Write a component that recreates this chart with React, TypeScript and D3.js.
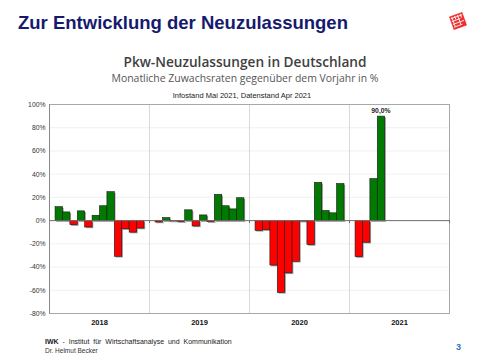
import { useEffect, useRef } from 'react';
import * as d3 from 'd3';

const years = ['2018', '2019', '2020', '2021'];
const months = ['Jan', 'Feb', 'Mär', 'Apr', 'Mai', 'Jun', 'Jul', 'Aug', 'Sep', 'Okt', 'Nov', 'Dez'];
const values2018 = [12, 7.5, -3.5, 8.4, -5.5, 4.6, 12.8, 24.9, -30.7, -7, -9.9, -6.4];
const values2019 = [-1.2, 2.6, -0.4, -0.9, 9.3, -4.6, 4.9, -0.9, 22.6, 12.8, 10.1, 19.7];
const values2020 = [-8.4, -7.8, -38.3, -61.8, -45, -35, -0.5, -20.6, 33, 8.7, 6.7, 31.9];
const values2021 = [-31, -18.6, 36.2, 90.0];
const yTicks = [-80, -60, -40, -20, 0, 20, 40, 60, 80, 100];

const allValues = [values2018, values2019, values2020, values2021];

export default function App() {
  const svgRef = useRef<SVGSVGElement>(null);

  useEffect(() => {
    if (!svgRef.current) return;
    const svg = d3.select(svgRef.current);
    svg.selectAll('*').remove();

    const left = 49.5, right = 449.5, top = 104.5, bottom = 313.5;
    const font = 'Liberation Sans, Arial, sans-serif';

    const x = d3.scaleBand().domain(years).range([left, right]);
    const xm = d3.scaleBand().domain(months).range([0, x.bandwidth()]).paddingOuter(0.75);
    const y = d3.scaleLinear().domain([-80, 100]).range([bottom, top]);

    // titles
    svg.append('text').attr('x', 18).attr('y', 29).text('Zur Entwicklung der Neuzulassungen')
      .attr('font-family', font).attr('font-weight', 'bold')
      .attr('font-size', 18.5).attr('fill', '#161a6e');

    // logo
    const logo = svg.append('g').attr('transform', 'translate(458,21) rotate(-20)');
    logo.append('rect').attr('x', -7).attr('y', -7).attr('width', 14).attr('height', 14).attr('fill', '#f03030');
    [-4.5, -1.5, 1.5, 4.5].forEach((d, i) => {
      logo.append('path')
        .attr('d', `M${-6},${d} H${i % 2 ? 3 : 6} M${d},-6 V${i % 2 ? -2 : 4}`)
        .attr('stroke', '#fff').attr('stroke-width', 0.8);
    });

    svg.append('text').attr('x', 245).attr('y', 67).attr('text-anchor', 'middle')
      .text('Pkw-Neuzulassungen in Deutschland')
      .attr('font-family', 'Open Sans, sans-serif').attr('font-weight', 600).attr('font-size', 14)
      .attr('fill', '#404040').attr('textLength', 243).attr('lengthAdjust', 'spacingAndGlyphs');
    svg.append('text').attr('x', 245).attr('y', 82).attr('text-anchor', 'middle')
      .text('Monatliche Zuwachsraten gegenüber dem Vorjahr in %')
      .attr('font-family', 'Open Sans, sans-serif').attr('font-size', 10.5)
      .attr('fill', '#555').attr('textLength', 267).attr('lengthAdjust', 'spacingAndGlyphs');
    svg.append('text').attr('x', 242).attr('y', 97.5).attr('text-anchor', 'middle')
      .text('Infostand Mai 2021, Datenstand Apr 2021')
      .attr('font-family', font).attr('font-size', 7.5).attr('fill', '#222');

    // grid
    svg.append('g').selectAll('line').data(yTicks).join('line')
      .attr('x1', left).attr('x2', right).attr('y1', (d) => y(d)).attr('y2', (d) => y(d))
      .attr('stroke', '#ececec').attr('stroke-width', 0.8);
    svg.append('g').selectAll('line').data(years.slice(1)).join('line')
      .attr('x1', (d) => x(d)!).attr('x2', (d) => x(d)!).attr('y1', top).attr('y2', bottom)
      .attr('stroke', '#cfcfcf').attr('stroke-width', 0.8);

    svg.append('rect').attr('x', left).attr('y', top).attr('width', right - left).attr('height', bottom - top)
      .attr('fill', 'none').attr('stroke', '#a8a8a8').attr('stroke-width', 1);

    // bars
    const bars = allValues.flatMap((vals, yi) => vals.map((v, mi) => ({ year: years[yi], month: months[mi], v })));
    const bx = (d: { year: string; month: string }) => x(d.year)! + xm(d.month)!;
    const g = svg.append('g');
    g.selectAll('.shadow').data(bars).join('rect')
      .attr('x', (d) => bx(d) + 1.2)
      .attr('y', (d) => Math.min(y(d.v), y(0)) + 1.2)
      .attr('width', xm.bandwidth())
      .attr('height', (d) => Math.abs(y(d.v) - y(0)))
      .attr('fill', '#9a9a9a');
    g.selectAll('.bar').data(bars).join('rect')
      .attr('x', (d) => bx(d))
      .attr('y', (d) => Math.min(y(d.v), y(0)))
      .attr('width', xm.bandwidth())
      .attr('height', (d) => Math.abs(y(d.v) - y(0)))
      .attr('fill', (d) => (d.v >= 0 ? '#007a00' : '#ff0000'))
      .attr('stroke', '#1a1a1a').attr('stroke-width', 0.6);

    // zero line
    svg.append('line').attr('x1', left).attr('x2', right).attr('y1', y(0)).attr('y2', y(0))
      .attr('stroke', '#6e6e6e').attr('stroke-width', 1);
    svg.append('g').selectAll('line').data([...years.slice(1), 'end']).join('line')
      .attr('x1', (d) => (d === 'end' ? right : x(d)!)).attr('x2', (d) => (d === 'end' ? right : x(d)!))
      .attr('y1', y(0)).attr('y2', y(0) + 2.5).attr('stroke', '#6e6e6e');

    svg.append('line').attr('x1', left).attr('x2', left).attr('y1', top).attr('y2', bottom)
      .attr('stroke', '#888').attr('stroke-width', 1);

    // y axis labels
    svg.append('g').selectAll('text').data(yTicks).join('text')
      .attr('x', left - 4).attr('y', (d) => y(d) + 2.4).attr('text-anchor', 'end')
      .text((d) => `${d}%`)
      .attr('font-family', font).attr('font-size', 6.8).attr('fill', '#333');

    // year labels
    svg.append('g').selectAll('text').data(years).join('text')
      .attr('x', (d) => x(d)! + x.bandwidth() / 2).attr('y', 325).attr('text-anchor', 'middle')
      .text((d) => d)
      .attr('font-family', font).attr('font-weight', 'bold')
      .attr('font-size', 7.5).attr('fill', '#111');

    // value label
    const last = bars[bars.length - 1];
    svg.append('text').attr('x', bx(last) + xm.bandwidth() / 2).attr('y', y(last.v) - 3)
      .attr('text-anchor', 'middle').text('90,0%')
      .attr('font-family', font).attr('font-weight', 'bold')
      .attr('font-size', 6.8).attr('fill', '#222');

    // footer
    const f1 = svg.append('text').attr('x', 45).attr('y', 344)
      .attr('font-family', font).attr('font-size', 7).attr('fill', '#222');
    f1.append('tspan').attr('font-weight', 'bold').text('IWK');
    f1.append('tspan').text('  -  Institut  für  Wirtschaftsanalyse  und  Kommunikation').attr('xml:space', 'preserve');
    svg.append('text').attr('x', 45).attr('y', 353).text('Dr. Helmut Becker')
      .attr('font-family', font).attr('font-size', 6.5).attr('fill', '#333');
    svg.append('text').attr('x', 456).attr('y', 350).text('3')
      .attr('font-family', font).attr('font-weight', 'bold')
      .attr('font-size', 9).attr('fill', '#2e75c6');
  }, []);

  return (
    <svg ref={svgRef} width={480} height={360}
      style={{ position: 'absolute', left: 0, top: 0, background: '#fff' }} />
  );
}
